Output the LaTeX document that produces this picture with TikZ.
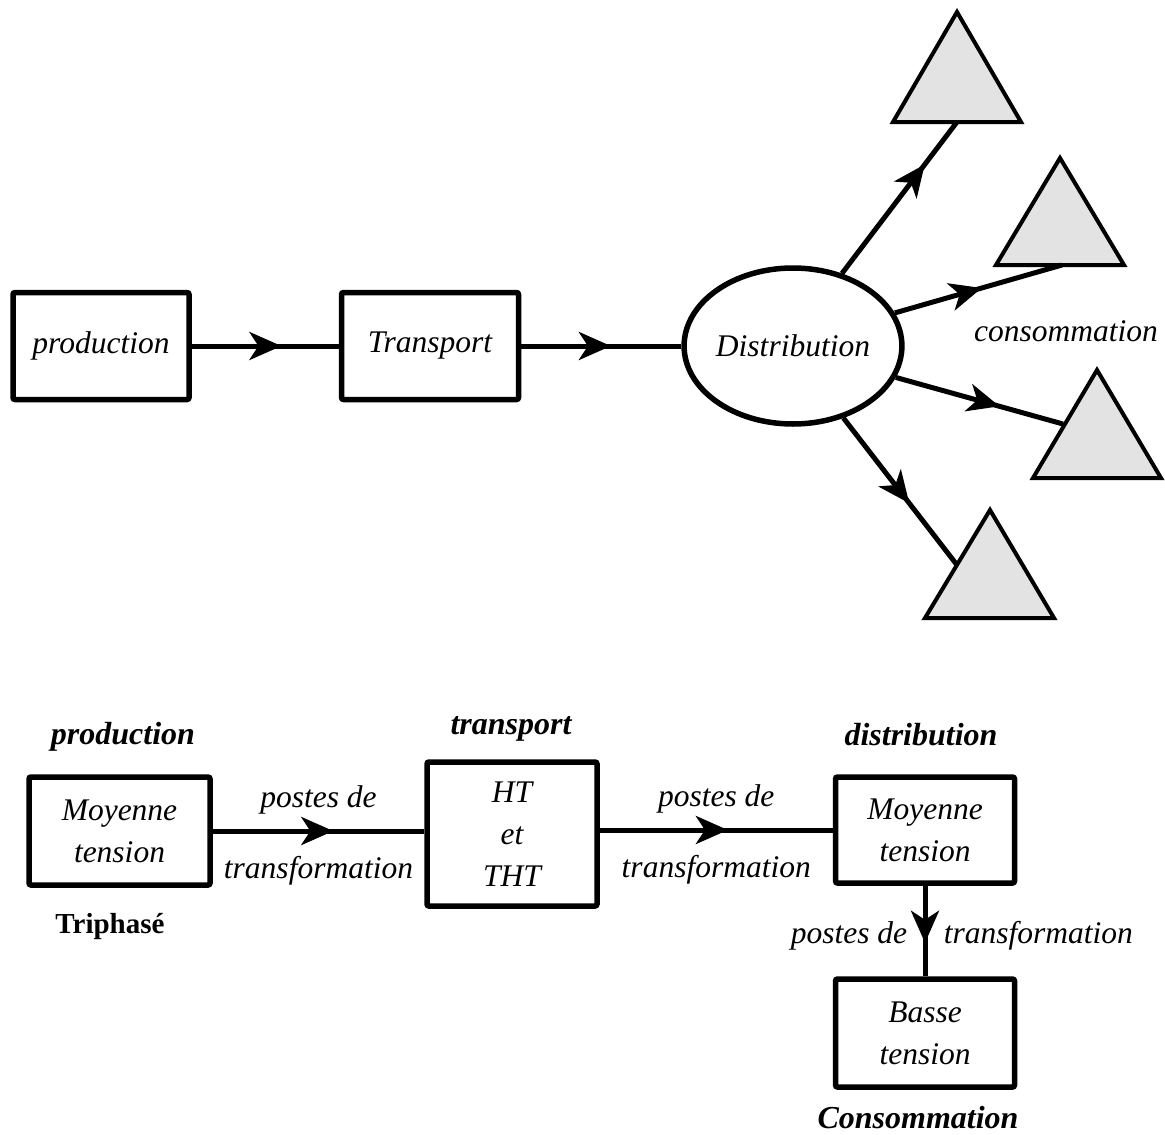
\documentclass[tikz,border=0pt]{standalone}
\usepackage{fontspec}
\setmainfont{Liberation Serif}
\usetikzlibrary{arrows.meta,shapes.geometric,decorations.markings}
\begin{document}
\begin{tikzpicture}[x=1pt,y=-1pt,
  itf/.style={font=\fontsize{31.5}{42}\selectfont\itshape},
  bif/.style={font=\fontsize{32}{36}\selectfont\bfseries\itshape},
  bx/.style={draw, line width=5.5pt, rounded corners=2pt, align=center, itf, inner sep=0pt},
  conn/.style={line width=5pt},
  midarrow/.style={postaction={decorate},decoration={markings,
     mark=at position #1 with {\arrow{Stealth[length=32pt,width=28pt,inset=9pt]}}}},
  tri/.style={draw, line width=4pt, fill=gray!22, line join=miter}
]
\useasboundingbox (0,0) rectangle (1165,1135);

% ---------- top diagram ----------
\node[bx, minimum width=176pt, minimum height=107pt] (prod) at (101,346) {production};
\node[bx, minimum width=177pt, minimum height=107pt] (trans) at (430,346) {Transport};
\node[draw, ellipse, line width=5.5pt, minimum width=214pt, minimum height=156pt, itf, inner sep=0pt] (dist) at (793,346) {Distribution};

\draw[conn, midarrow=0.61] (prod.east) -- (trans.west);
\draw[conn, midarrow=0.56] (trans.east) -- (dist.west);

% triangles
\draw[tri] (957,12) -- (1021,122) -- (893,122) -- cycle;
\draw[tri] (1060,158) -- (1124,265) -- (996,265) -- cycle;
\draw[tri] (1097,370) -- (1161,478) -- (1033,478) -- cycle;
\draw[tri] (990,510) -- (1054,618) -- (925,618) -- cycle;

\coordinate (t1) at (957,122);
\coordinate (t2) at (1062,265);
\coordinate (t3) at (1063,424);
\coordinate (t4) at (957,565);

\draw[conn, midarrow=0.72] (dist.56) -- (t1);
\draw[conn, midarrow=0.52] (dist.18) -- (t2);
\draw[conn, midarrow=0.62] (dist.-17) -- (t3);
\draw[conn, midarrow=0.58] (dist.-55) -- (t4);

\node[itf] (cons) at (1066,331) {consommation};

% ---------- bottom diagram ----------
\node[bx, minimum width=181pt, minimum height=108pt] (mt1) at (119.5,831) {Moyenne\\tension};
\node[bx, minimum width=170pt, minimum height=144pt] (ht) at (512,834) {HT\\et\\THT};
\node[bx, minimum width=179pt, minimum height=106pt] (mt2) at (925,830) {Moyenne\\tension};
\node[bx, minimum width=179pt, minimum height=108pt] (bt) at (925,1033) {Basse\\tension};

\node[bif] (lprod) at (123,737) {production};
\node[bif] (ltrans) at (511,729) {transport};
\node[bif] (ldist) at (921,735) {distribution};
\node[font=\fontsize{29}{34}\selectfont\bfseries] (ltri) at (110,927) {Triphasé};
\node[bif] (lcons) at (918,1118) {Consommation};

\draw[conn, midarrow=0.57] (mt1.east) -- (ht.west |- mt1.east)
  node[midway, yshift=31pt, itf] {postes de}
  node[midway, yshift=-40pt, itf] {transformation};
\draw[conn, midarrow=0.55] (ht.east |- mt2.west) -- (mt2.west)
  node[midway, yshift=31pt, itf] {postes de}
  node[midway, yshift=-40pt, itf] {transformation};
\draw[conn, midarrow=0.63] (mt2.south) -- (bt.north)
  node[pos=0.55, left=12pt, itf] {postes de}
  node[pos=0.55, right=13pt, itf] {transformation};
\end{tikzpicture}
\end{document}
